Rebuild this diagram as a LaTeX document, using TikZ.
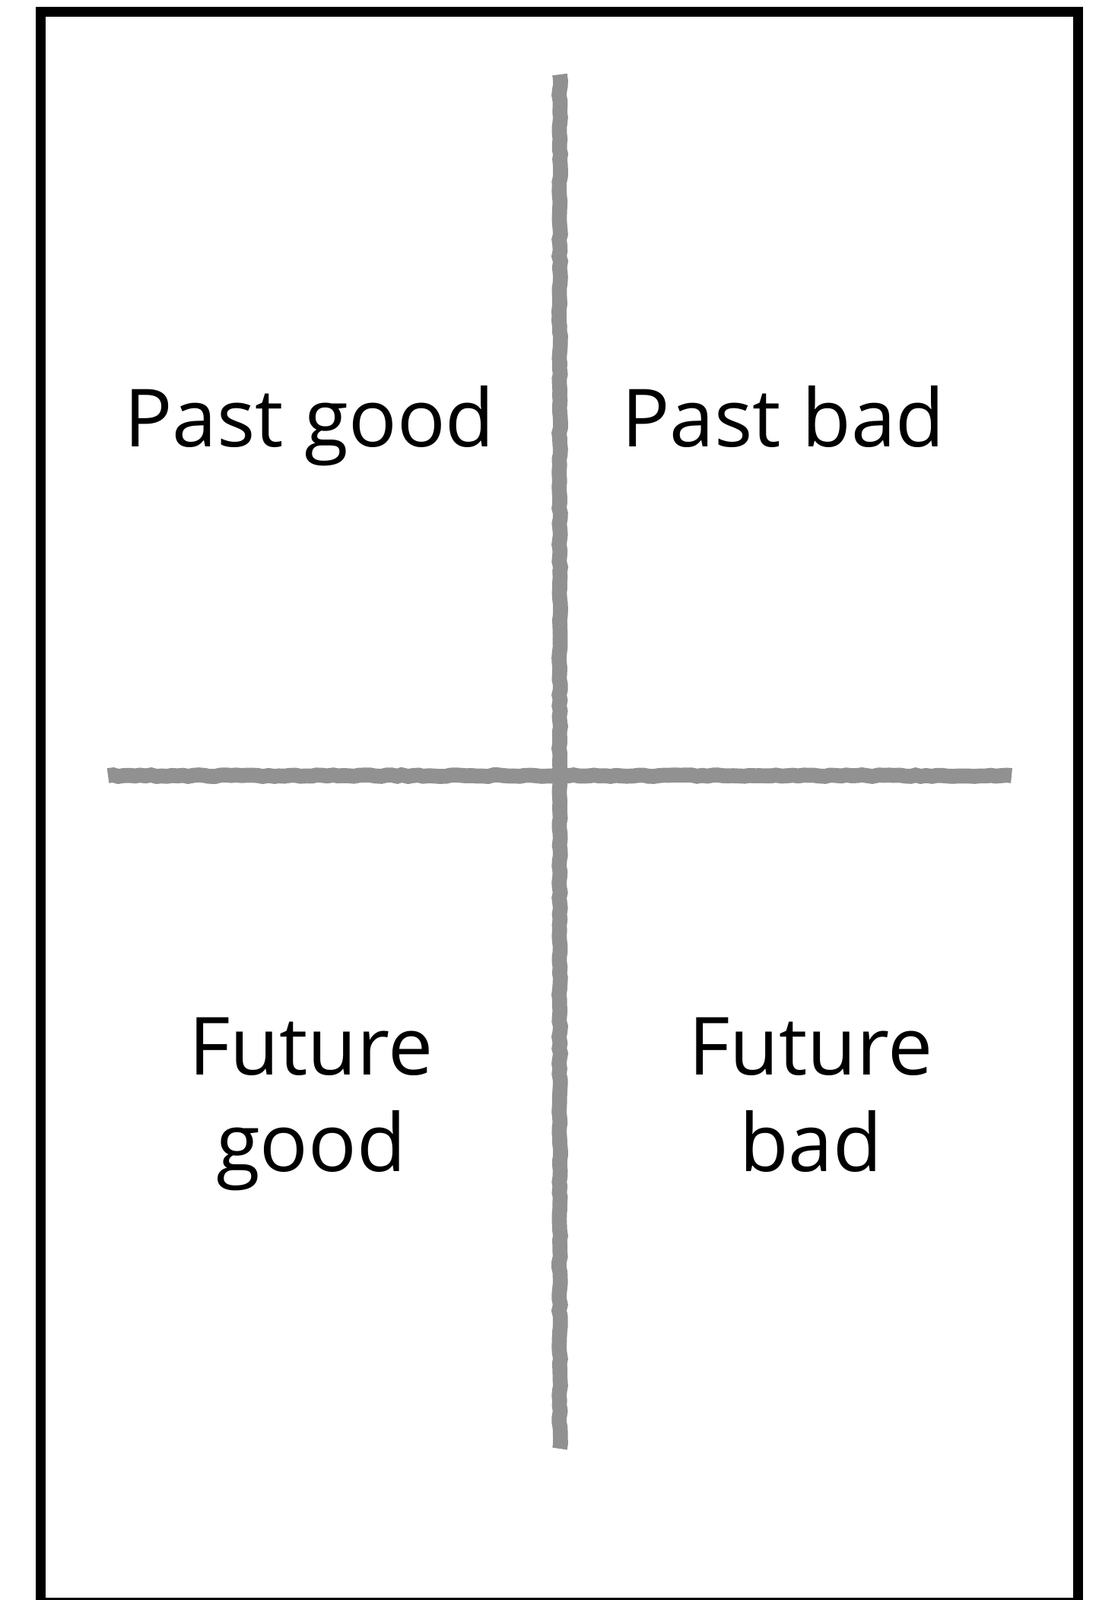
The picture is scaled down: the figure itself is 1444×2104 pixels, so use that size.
\documentclass[tikz,border=0pt]{standalone}
\usepackage{fontspec}
\setmainfont{Open Sans}
\usepackage{xcolor}
\usepackage{tikz}
\usetikzlibrary{decorations.pathmorphing}
\definecolor{chalkgray}{RGB}{145,145,145}
\definecolor{frameblack}{RGB}{0,0,0}
\tikzset{
  frameline/.style={draw=frameblack, line width=3.7pt},
  chalkline/.style={draw=chalkgray, line width=5.6pt,
    decorate, decoration={random steps, segment length=2pt, amplitude=0.3pt}},
  quadtext/.style={anchor=base, align=center, text=black,
    font=\fontsize{30}{36}\selectfont},
}

\begin{document}
\begin{tikzpicture}[x=0.01cm, y=-0.01cm]
  \useasboundingbox (0,0) rectangle (1444,2104);
  \draw[frameline] (53.5,15.5) rectangle (1417.5,2107.5);
  % cross
  \coordinate (vtop) at (736,98);
  \coordinate (vbot) at (736,1905);
  \coordinate (hleft) at (142,1020);
  \coordinate (hright) at (1330,1020);
  \draw[chalkline] (vtop) -- (vbot);
  \draw[chalkline] (hleft) -- (hright);
  % quadrants
  \node[quadtext] (pastgood) at (407,588) {Past good};
  \node[quadtext] (pastbad) at (1030,588) {Past bad};
  \node[quadtext] (futuregood) at (409,1540) {Future\\good};
  \node[quadtext] (futurebad) at (1066,1540) {Future\\bad};
\end{tikzpicture}
\end{document}
